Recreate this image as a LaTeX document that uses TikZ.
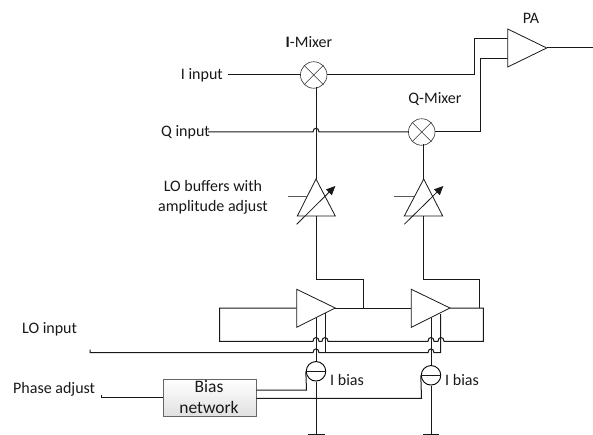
\documentclass[tikz,border=0pt]{standalone}
\usepackage{fontspec}
\setmainfont{Carlito}
\usetikzlibrary{arrows.meta,shadows,calc}
\newcommand\hop[2]{-- ({#1-3},#2) .. controls ({#1-3},{#2-5}) and ({#1+3},{#2-5}) .. ({#1+3},#2)}
\tikzset{
  wire/.style={line width=1pt,draw=black!90,line join=miter},
  mixer/.style={circle,draw=black!80,line width=0.6pt,fill=white,minimum size=26.5pt,inner sep=0pt},
  amp/.style={line width=0.8pt,draw=black!90,fill=white},
  csrc/.style={circle,draw=black,line width=0.9pt,fill=white,minimum size=19.5pt,inner sep=0pt},
  lbl/.style={font=\fontsize{16}{19.5}\selectfont,text=black!90,inner sep=0pt,align=center},
  biasbox/.style={draw=black!60,line width=0.8pt,top color=white,bottom color=black!12,drop shadow={shadow xshift=1pt,shadow yshift=-1pt,opacity=0.35},minimum width=92.5pt,minimum height=36.5pt,inner sep=0pt,anchor=north west}
}
\begin{document}
\begin{tikzpicture}[x=1pt,y=-1pt]
\useasboundingbox (0,0) rectangle (593,435);
\fill[white] (0,0) rectangle (593,435);
% named points
\coordinate (pa1) at (507.7,39);
\coordinate (pa2) at (507.7,58.7);
\coordinate (paout) at (546.7,48);
\coordinate (out) at (593,48);
\coordinate (iin) at (228,75);
\coordinate (qin) at (208,132);
\coordinate (lostart) at (90,352.7);
\coordinate (phstart) at (101,397.3);
\coordinate (g1) at (316,434);
\coordinate (g2) at (431,434);
% wires
\node[mixer] (im) at (313.7,75) {};
\node[mixer] (qm) at (421.7,132) {};
\node[csrc] (cs1) at (316,371.3) {};
\node[csrc] (cs2) at (431,375.3) {};
\node[biasbox] (bias) at (163,379) {};
% RF paths
\draw[wire] (iin) -- (im.west);
\draw[wire] (im.east) -- (474,75) -- (474,39) -- (pa1);
\draw[wire] (qm.east) -- (480,132) -- (480,58.7) -- (pa2);
\draw[wire] (paout) -- (out);
\draw[wire] (qin) \hop{316}{132} -- (qm.west);
% LO to mixers
\draw[wire] (316,87.5) -- (316,179);
\draw[wire] (423.7,144.5) -- (423.7,179);
\draw[wire] (316,216) -- (316,279.3) -- (363.7,279.3) -- (363.7,308);
\draw[wire] (423.7,216) -- (423.7,279.3) -- (479.3,279.3) -- (479.3,308);
% LO ring
\draw[wire] (296.7,308) -- (219.7,308) -- (219.7,341.3) \hop{316}{341.3} \hop{325}{341.3} \hop{431}{341.3} \hop{441}{341.3} -- (483.3,341.3) -- (483.3,308) -- (450,308);
\draw[wire] (335.3,308) -- (411.3,308);
% LO input
\draw[wire] (lostart|-0,349.7) -- (lostart) \hop{316}{352.7} \hop{431}{352.7} -- (440.7,352.7) -- (440.7,314);
\draw[wire] (325,313) -- (325,352.7) -- (319,352.7);
% amp verticals
\draw[wire] (316,318) -- (cs1.north);
\draw[wire] (431,318) -- (cs2.north);
\draw[wire] (cs1.south) -- (g1);
\draw[wire] (cs2.south) -- (g2);
\draw[wire] (308.3,434) -- (325,434);
\draw[wire] (423.3,434) -- (439.3,434);
% bias
\draw[wire] (phstart|-0,394.5) -- (phstart) -- (bias.west|-phstart);
\draw[wire] (bias.east|-0,390) -- (306.5,390) -- (cs1.west);
\draw[wire] (bias.east|-0,398.3) -- (421.5,398.3) -- (cs2.west);
% source bars
\draw[wire] (cs1.west) -- (cs1.east);
\draw[wire] (cs2.west) -- (cs2.east);
% mixer crosses
\foreach \m in {im,qm}{
  \draw[line width=0.6pt,draw=black!80] (\m.45) -- (\m.225) (\m.135) -- (\m.315);
}
% amplifiers
\draw[amp] (507.7,29) -- (507.7,67) -- (paout) -- cycle;
\draw[amp] (296.7,289.3) -- (296.7,327.3) -- (335.3,308) -- cycle;
\draw[amp] (411.3,289.3) -- (411.3,327.3) -- (450,308) -- cycle;
% LO buffers
\draw[amp] (316,179) -- (297.3,216) -- (335.3,216) -- cycle;
\draw[amp] (423.7,179) -- (404.3,216) -- (442.7,216) -- cycle;
\draw[wire,draw=black!65] (287.7,196.7) -- (306.5,196.7);
\draw[wire,draw=black!65] (394,196.7) -- (414,196.7);
\draw[line width=0.8pt,draw=black!90,-{Triangle[length=9pt,width=8pt]}] (296.7,224.3) -- (335.3,186);
\draw[line width=0.8pt,draw=black!90,-{Triangle[length=9pt,width=8pt]}] (404.3,224.3) -- (443.3,186);
% labels
\node[lbl] (t1) at (309,42) {\textbf{I}-Mixer};
\node[lbl] (t2) at (435,99) {Q-Mixer};
\node[lbl] (t3) at (531,18) {PA};
\node[lbl,anchor=east] (t4) at (223,75) {I input};
\node[lbl,anchor=east] (t5) at (210,132) {Q input};
\node[lbl] (t6) at (213,197.5) {LO buffers with\\amplitude adjust};
\node[lbl,anchor=west] (t7) at (22,329) {LO input};
\node[lbl,anchor=west] (t8) at (13,389) {Phase adjust};
\node[lbl,font=\fontsize{17.5}{21}\selectfont] (t9) at (209,397.5) {Bias\\network};
\node[lbl,anchor=west] (t10) at (330,380) {I bias};
\node[lbl,anchor=west] (t11) at (445,380) {I bias};
\end{tikzpicture}
\end{document}
